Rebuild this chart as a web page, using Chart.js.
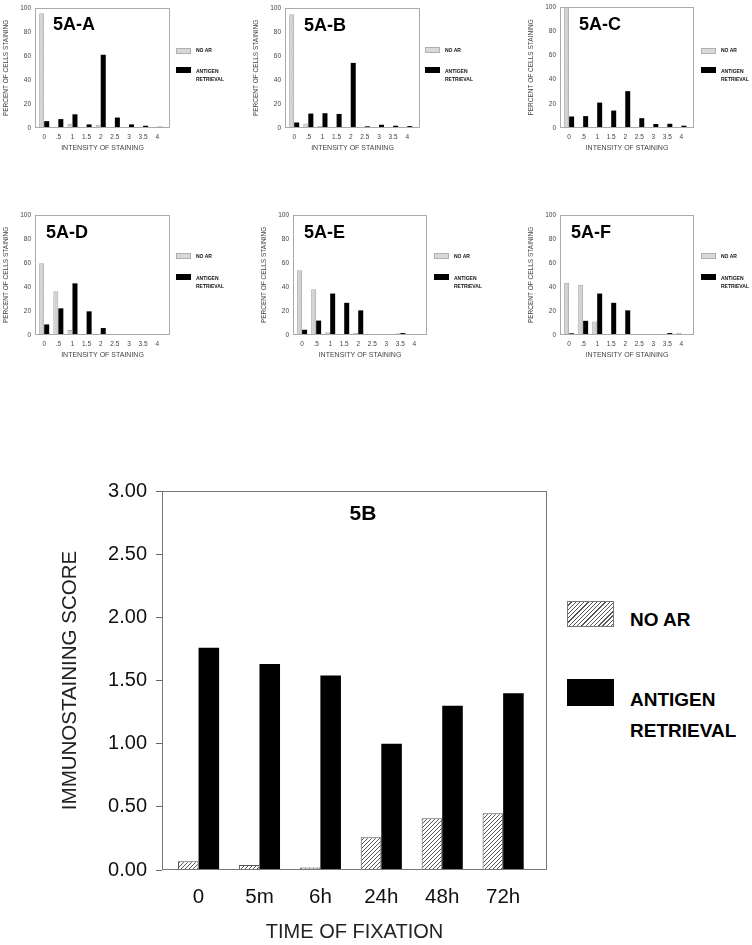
<!DOCTYPE html>
<html><head><meta charset="utf-8">
<script src="https://cdn.jsdelivr.net/npm/chart.js@4.4.1/dist/chart.umd.min.js"></script>
<style>
html,body{margin:0;padding:0;background:#fff;}
body{width:752px;height:945px;position:relative;overflow:hidden;font-family:"Liberation Sans",Arial,sans-serif;}
canvas{position:absolute;}
.t{position:absolute;white-space:nowrap;line-height:1;color:#000;}
.ptitle{font-weight:bold;font-size:18px;}
.sw{position:absolute;box-sizing:border-box;}
.sl{position:absolute;white-space:nowrap;line-height:1;font-size:10px;font-weight:bold;transform:scale(0.5);transform-origin:0 0;color:#111;}
.bl{position:absolute;white-space:nowrap;line-height:1;font-size:19px;font-weight:bold;color:#000;}
</style></head><body>
<script>
// ---------- data ----------
const intensityLabels = ['0', '.5', '1', '1.5', '2', '2.5', '3', '3.5', '4'];
const percentTicks = [0, 20, 40, 60, 80, 100];
const seriesNames = ['NO AR', 'ANTIGEN RETRIEVAL'];

const noArA = [95.5, 0, 3.5, 0, 2.7, 0, 0, 0, 0];
const arA   = [5.7, 7.4, 11.4, 3.0, 61.0, 8.7, 3.0, 1.9, 1.0];
const noArB = [94.8, 3.8, 1.9, 0.3, 0.8, 0, 0, 0, 0];
const arB   = [4.6, 12.0, 12.3, 11.7, 54.2, 1.4, 2.7, 1.9, 1.6];
const noArC = [100, 0, 0, 0, 0.5, 0.8, 0, 0, 0];
const arC   = [9.5, 9.8, 21.0, 14.4, 30.4, 8.1, 3.3, 3.5, 1.9];
const noArD = [59.7, 36.4, 4.1, 0, 0.5, 0.8, 0.5, 0.8, 0.8];
const arD   = [8.8, 22.2, 43.0, 19.7, 5.8, 0, 0.8, 0.3, 0];
const noArE = [54.0, 38.0, 2.2, 1.1, 1.9, 0.8, 0.8, 1.4, 0.5];
const arE   = [4.4, 12.0, 34.5, 26.8, 20.5, 0.5, 0.3, 1.6, 0];
const noArF = [43.6, 41.9, 11.2, 0.5, 1.1, 0.5, 0.5, 0.5, 1.9];
const arF   = [1.4, 11.8, 34.5, 26.8, 20.5, 0, 0, 1.6, 0];

const fixationTimes = ['0', '5m', '6h', '24h', '48h', '72h'];
const scoreTicks = [0, 0.5, 1, 1.5, 2, 2.5, 3];
const noAr5B = [0.07, 0.04, 0.02, 0.26, 0.41, 0.45];
const ar5B   = [1.76, 1.63, 1.54, 1.00, 1.30, 1.40];

// ---------- layout (positions only) ----------
const panels = [
  {name: '5A-A', noAr: noArA, ar: arA, plot: [35, 6, 170, 128],  title: [53, 24],   box: [176, 47.7, 66.7]},
  {name: '5A-B', noAr: noArB, ar: arB, plot: [285, 6, 420, 128], title: [304, 25],  box: [425, 47, 66.7]},
  {name: '5A-C', noAr: noArC, ar: arC, plot: [560, 5, 694, 128], title: [579, 24],  box: [701, 47.7, 66.7]},
  {name: '5A-D', noAr: noArD, ar: arD, plot: [35, 213, 170, 335],  title: [46, 232],  box: [176, 253, 274]},
  {name: '5A-E', noAr: noArE, ar: arE, plot: [293, 213, 427, 335], title: [304, 232], box: [434, 253, 274]},
  {name: '5A-F', noAr: noArF, ar: arF, plot: [560, 213, 694, 335], title: [571, 232], box: [701, 253, 274]}
];

Chart.defaults.font.family = '"Liberation Sans", Arial, sans-serif';

function hatch(bg, fg, size) {
  const c = document.createElement('canvas');
  c.width = size; c.height = size;
  const g = c.getContext('2d');
  g.fillStyle = bg; g.fillRect(0, 0, size, size);
  g.strokeStyle = fg; g.lineWidth = 1;
  g.beginPath();
  g.moveTo(0, size); g.lineTo(size, 0);
  g.moveTo(-1, 1); g.lineTo(1, -1);
  g.moveTo(size - 1, size + 1); g.lineTo(size + 1, size - 1);
  g.stroke();
  return g.createPattern(c, 'repeat');
}

const framePlugin = {
  id: 'frame',
  afterDatasetsDraw(chart, args, opts) {
    const a = chart.chartArea, ctx = chart.ctx;
    ctx.save();
    ctx.strokeStyle = opts.color || '#888';
    ctx.lineWidth = 1;
    const l = Math.round(a.left) + 0.5, t = Math.round(a.top) + 0.5;
    const r = Math.round(a.right) - 0.5, b = Math.round(a.bottom) - 0.5;
    ctx.strokeRect(l, t, r - l, b - t);
    ctx.restore();
  }
};

function addDiv(cls, text, left, top, extra) {
  const d = document.createElement('div');
  d.className = cls; d.textContent = text;
  d.style.left = left + 'px'; d.style.top = top + 'px';
  if (extra) Object.assign(d.style, extra);
  document.body.appendChild(d);
  return d;
}

function makeCanvas(left, top, w, h) {
  const cv = document.createElement('canvas');
  cv.width = w; cv.height = h;
  cv.style.left = left + 'px'; cv.style.top = top + 'px';
  cv.style.width = w + 'px'; cv.style.height = h + 'px';
  document.body.appendChild(cv);
  return cv;
}

const grayPat = hatch('#d8d8d8', '#c4c4c4', 3);

panels.forEach(p => {
  const [L, T, R, B] = p.plot;
  const cw = 35 + (R - L) + 5, ch = 6 + (B - T) + 27;
  const cv = makeCanvas(L - 35, T - 6, cw, ch);
  new Chart(cv, {
    type: 'bar',
    data: {datasets: [
      {label: seriesNames[0], data: p.noAr.map((v, k) => ({x: k, y: v})),
       backgroundColor: grayPat, borderColor: '#a8a8a8', borderWidth: 1},
      {label: seriesNames[1], data: p.ar.map((v, k) => ({x: k, y: v})),
       backgroundColor: '#000', borderWidth: 0}
    ]},
    options: {
      responsive: false, animation: false, devicePixelRatio: 1,
      layout: {padding: {top: 6, right: 5, left: 0, bottom: 0}},
      datasets: {bar: {categoryPercentage: 0.71, barPercentage: 1}},
      scales: {
        x: {type: 'linear', offset: false, min: -0.65, max: 8.9,
            grid: {display: false, drawTicks: false}, border: {display: false},
            afterBuildTicks: s => { s.ticks = intensityLabels.map((_, k) => ({value: k})); },
            ticks: {padding: 5, color: '#444', font: {size: 6.5}, maxRotation: 0, autoSkip: false,
                    callback: v => intensityLabels[v]},
            title: {display: true, text: 'INTENSITY OF STAINING', color: '#444', font: {size: 7}, padding: {top: 0, bottom: 3}},
            afterFit: s => { s.height = 27; }},
        y: {min: 0, max: 100,
            grid: {display: false, drawTicks: false}, border: {display: false},
            afterBuildTicks: s => { s.ticks = percentTicks.map(v => ({value: v})); },
            ticks: {padding: 4, color: '#444', font: {size: 6.5}},
            title: {display: true, text: 'PERCENT OF CELLS STAINING', color: '#444', font: {size: 6.5}, padding: {top: 2, bottom: 0}},
            afterFit: s => { s.width = 35; }}
      },
      plugins: {legend: {display: false}, tooltip: {enabled: false}, frame: {color: '#aaa'}}
    },
    plugins: [framePlugin]
  });
  // panel title
  addDiv('t ptitle', p.name, p.title[0], p.title[1] - 8.8);
  // legend
  const [bx, by1, by2] = p.box;
  const s1 = addDiv('sw', '', bx, by1, {width: '15px', height: '6px', background: '#d8d8d8', border: '1px solid #b0b0b0'});
  const s2 = addDiv('sw', '', bx, by2, {width: '15px', height: '6px', background: '#000'});
  addDiv('sl', seriesNames[0], bx + 20, by1 + 3 - 2.5);
  const parts = seriesNames[1].split(' ');
  addDiv('sl', parts[0], bx + 20, by2 + 4.3 - 2.5);
  addDiv('sl', parts[1], bx + 20, by2 + 12.3 - 2.5);
});

// ---------- 5B ----------
const bigPat = hatch('#ffffff', '#555555', 4);
const bcv = makeCanvas(40, 470, 520, 475);
new Chart(bcv, {
  type: 'bar',
  data: {datasets: [
    {label: seriesNames[0], data: noAr5B.map((v, k) => ({x: k, y: v})),
     backgroundColor: bigPat, borderColor: '#555', borderWidth: 1},
    {label: seriesNames[1], data: ar5B.map((v, k) => ({x: k, y: v})),
     backgroundColor: '#000', borderWidth: 0}
  ]},
  options: {
    responsive: false, animation: false, devicePixelRatio: 1,
    layout: {padding: {top: 19, right: 13, left: 0, bottom: 0}},
    datasets: {bar: {categoryPercentage: 0.675, barPercentage: 1}},
    scales: {
      x: {type: 'linear', offset: false, min: -0.6, max: 5.72,
          grid: {display: false, drawTicks: false}, border: {display: false},
          afterBuildTicks: s => { s.ticks = fixationTimes.map((_, k) => ({value: k})); },
          ticks: {padding: 15, color: '#111', font: {size: 20.5}, maxRotation: 0, autoSkip: false,
                  callback: v => fixationTimes[v]},
          title: {display: true, text: 'TIME OF FIXATION', color: '#222', font: {size: 20}, padding: {top: 0, bottom: 1}},
          afterFit: s => { s.height = 75; }},
      y: {min: 0, max: 3,
          grid: {display: true, drawOnChartArea: false, drawTicks: true, tickLength: 6, color: '#666'},
          border: {display: false},
          afterBuildTicks: s => { s.ticks = scoreTicks.map(v => ({value: v})); },
          ticks: {padding: 9, color: '#111', font: {size: 20}, callback: v => Number(v).toFixed(2)},
          title: {display: true, text: 'IMMUNOSTAINING SCORE', color: '#222', font: {size: 20.5}, padding: {top: 18, bottom: 0}},
          afterFit: s => { s.width = 122; }}
    },
    plugins: {legend: {display: false}, tooltip: {enabled: false}, frame: {color: '#777'}}
  },
  plugins: [framePlugin]
});
addDiv('t', '5B', 363, 512 - 0.49 * 21, {fontSize: '21px', fontWeight: 'bold', transform: 'translateX(-50%)'});
addDiv('sw', '', 567, 601, {width: '47px', height: '26px', border: '1px solid #777',
  background: 'repeating-linear-gradient(135deg, #fff 0px, #fff 2px, #555 2px, #555 3px)'});
addDiv('sw', '', 567, 679, {width: '47px', height: '27px', background: '#000'});
addDiv('bl', seriesNames[0], 630, 619.5 - 9.3);
const bparts = seriesNames[1].split(' ');
addDiv('bl', bparts[0], 630, 699 - 9.3);
addDiv('bl', bparts[1], 630, 730.5 - 9.3);
</script>
</body></html>
